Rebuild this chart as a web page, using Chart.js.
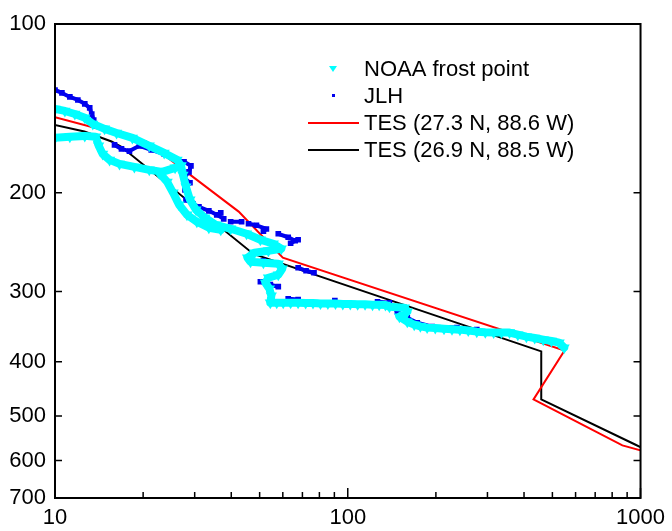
<!DOCTYPE html>
<html>
<head>
<meta charset="utf-8">
<script src="https://cdn.jsdelivr.net/npm/chart.js@4.4.0/dist/chart.umd.min.js"></script>
<style>
  body { margin: 0; background: #fff; }
  canvas { display: block; }
</style>
</head>
<body>
<canvas id="profileChart" width="672" height="531"></canvas>
<script>
// water vapour (ppmv) vs pressure (hPa); a null starts a new strand
const noaaPpmv = [
    10, 10.81, 11.69, 12.64, 13.46, 14.77, 16.23, 18.38, 20.99, 23.60, 26.12, 26.95,
    null,
    10, 11.24, 12.64, 13.77, 14.10, 14.55, 15.36, 16.61, 18.67, 20.99, 23.23, 25.72, 26.95,
    27.37, 28.02, 28.91, 30.30, 32.50, 35.42, 39.81, 45.11, 50.30, 55.69, 59.27, 53.56,
    48.01, 45.46, 46.54, 51.51, 57.90, 59.74, 57.90, 53.56, 52.31, 53.97, 54.82, 54.39,
    57.2, 60.20, 63.8, 67.68, 71.8, 76.08, 80.7, 85.53, 90.8, 96.18, 102, 108.1, 114.6,
    121.5, 128, 134.5, 138.8, 156.1, 159.7, 150.1, 159.7, 168.7, 177, 186.7, 199, 213.2,
    227, 241.6, 258, 275.9, 295, 315.0, 335, 356.9, 381, 407.6, 435, 465.4, 496, 527.2, 548.3,
    null,
    22.70, 24.16, 25.32, 26.53, 28.23, 30.52, 33.54, 36.83
];
const noaaHpa = [
    141.7, 142.9, 144.7, 147.0, 150.7, 153.8, 156.4, 159.6, 164.9, 169.8, 174.7, 179.0,
    null,
    159.6, 158.9, 158.3, 158.9, 164.9, 170.5, 174.7, 177.6, 179.8, 182.0, 183.5, 180.5, 179.0,
    185.8, 195.1, 205.8, 214.4, 221.5, 228.0, 231.8, 236.6, 242.5, 246.5, 251.6, 253.6,
    255.7, 261.1, 265.4, 266.5, 267.6, 273.1, 279.9, 283.4, 289.3, 296.5, 305.1, 314.0,
    314.0, 314.0, 314.0, 314.0, 314.5, 314.5, 315.0, 315.0, 315.0, 315.5, 315.5, 316.0, 316.0,
    316.5, 316.5, 317.0, 319.2, 320.5, 325.8, 332.5, 339.5, 343.6, 346.0, 347.8, 348.5, 349.3,
    350.0, 350.7, 352.0, 353.6, 354.5, 355.0, 355.0, 355.0, 358.0, 360.9, 363.0, 365.4, 367.5, 369.9, 377.6,
    null,
    184.3, 191.2, 200.0, 210.1, 218.9, 225.2, 230.8, 232.7
];

const jlhPpmv = [
    10, 10.56, 11.24, 11.97, 12.64, 13.14, 13.35, 13.56, 13.77,
    null,
    15.97, 16.87, 17.96, 19.42, 21.32, 23.60, 26.12, 27.59, 29.13, 28.69, 27.59, 28.91,
    27.80, 28.69, 28.02, 29.60, 31.02, 33.54, 35.69, 37.70,
    null, 39.81, 43.39,
    null, 45.82, 48.76, 52.73, 51.51,
    null, 57.90, 62.60, 66.12, 63.80,
    null, 67.68, 72.03, 76.68,
    null, 50.30, 54.39, 57.90,
    null, 62.60, 67.68,
    null, 126.4, 138.8, 147.7, 159.7, 172.7, 194.2, 236.0, 275.9,
    null, 51.51, null, 36.83, null, 90.35, null, 67.68
];
const jlhHpa = [
    131.1, 132.7, 134.9, 136.6, 138.8, 141.1, 144.7, 148.3, 151.9,
    null,
    164.3, 167.0, 168.5, 164.9, 167.7, 170.5, 174.7, 176.1, 179.0, 183.5, 188.0, 191.9,
    197.6, 202.5, 205.8, 209.3, 211.8, 215.3, 218.9, 222.5,
    null, 225.2, 225.2,
    null, 227.1, 228.5, 232.0, 234.0,
    null, 236.6, 240.0, 243.5, 246.0,
    null, 272.0, 275.4, 277.6,
    null, 288.1, 291.6, 294.0,
    null, 308.9, 310.0,
    null, 312.7, 314.0, 325.8, 333.9, 340.9, 346.4, 347.8, 350.7,
    null, 264.3, null, 217.1, null, 311.3, null, 242.5
];

const tesRedPpmv = [10, 20.5, 42.4, 60, 550, 431, 867, 1650];
const tesRedHpa = [146.6, 162, 216, 261, 382, 467, 564, 619];
const tesBlackPpmv = [7.7, 12.6, 15.6, 16.8, 47.6, 458, 458, 958, 1400];
const tesBlackHpa = [146.8, 155.5, 162, 165.4, 257, 383.4, 467, 562, 619];

const xLabels = [10, 100, 1000];
const yLabels = [100, 200, 300, 400, 500, 600, 700];

function toPoints(xs, ys) {
    return xs.map((v, i) => (v === null ? { x: null, y: null } : { x: v, y: ys[i] }));
}

const fontFamily = '"Liberation Sans", Arial, sans-serif';

// black box with inward ticks on left, right and bottom
const frameTicks = {
    id: 'frameTicks',
    afterDatasetsDraw(chart) {
        const { ctx, chartArea: a, scales: { x, y } } = chart;
        ctx.save();
        ctx.strokeStyle = '#000';
        ctx.lineWidth = 2;
        ctx.strokeRect(a.left, a.top, a.right - a.left, a.bottom - a.top);
        ctx.lineWidth = 1.5;
        ctx.beginPath();
        x.ticks.forEach(t => {
            const m = t.value / Math.pow(10, Math.floor(Math.log10(t.value) + 1e-9));
            if (Math.abs(m - Math.round(m)) > 1e-6) return;
            const px = x.getPixelForValue(t.value);
            const len = xLabels.includes(t.value) ? 10 : 6;
            ctx.moveTo(px, a.bottom);
            ctx.lineTo(px, a.bottom - len);
        });
        yLabels.forEach(v => {
            const py = y.getPixelForValue(v);
            ctx.moveTo(a.left, py);
            ctx.lineTo(a.left + 7, py);
            ctx.moveTo(a.right, py);
            ctx.lineTo(a.right - 7, py);
        });
        ctx.stroke();
        ctx.restore();
    }
};

// legend drawn inside the plot, upper right
const insideLegend = {
    id: 'insideLegend',
    afterDraw(chart) {
        const ctx = chart.ctx;
        const sets = chart.data.datasets;
        ctx.save();
        ctx.font = '22px ' + fontFamily;
        ctx.textBaseline = 'middle';
        sets.forEach((ds, i) => {
            const rowY = 69 + i * 27;
            ctx.fillStyle = '#000';
            ctx.fillText(ds.label, 364, rowY + 1);
            if (i === 0) {
                ctx.fillStyle = ds.pointBackgroundColor;
                ctx.beginPath();
                ctx.moveTo(329, rowY - 3);
                ctx.lineTo(337, rowY - 3);
                ctx.lineTo(333, rowY + 3);
                ctx.closePath();
                ctx.fill();
            } else if (i === 1) {
                ctx.fillStyle = ds.pointBackgroundColor;
                ctx.fillRect(332, rowY - 2, 3, 3);
            } else {
                ctx.strokeStyle = ds.borderColor;
                ctx.lineWidth = 2;
                ctx.beginPath();
                ctx.moveTo(308, rowY);
                ctx.lineTo(359, rowY);
                ctx.stroke();
            }
        });
        ctx.restore();
    }
};

new Chart(document.getElementById('profileChart'), {
    type: 'scatter',
    data: {
        datasets: [
            {
                label: 'NOAA frost point',
                data: toPoints(noaaPpmv, noaaHpa),
                showLine: true,
                borderColor: '#00ffff',
                borderWidth: 8,
                borderJoinStyle: 'round',
                borderCapStyle: 'round',
                pointStyle: 'triangle',
                rotation: 180,
                pointRadius: 6.5,
                pointBackgroundColor: '#00ffff',
                pointBorderWidth: 0
            },
            {
                label: 'JLH',
                data: toPoints(jlhPpmv, jlhHpa),
                showLine: true,
                borderColor: '#0000ee',
                borderWidth: 4,
                borderJoinStyle: 'round',
                borderCapStyle: 'round',
                pointStyle: 'rect',
                pointRadius: 4,
                pointBackgroundColor: '#0000ee',
                pointBorderWidth: 0
            },
            {
                label: 'TES (27.3 N, 88.6 W)',
                data: toPoints(tesRedPpmv, tesRedHpa),
                showLine: true,
                borderColor: '#ff0000',
                borderWidth: 2,
                pointRadius: 0
            },
            {
                label: 'TES (26.9 N, 88.5 W)',
                data: toPoints(tesBlackPpmv, tesBlackHpa),
                showLine: true,
                borderColor: '#000000',
                borderWidth: 2,
                pointRadius: 0
            }
        ]
    },
    options: {
        responsive: false,
        animation: false,
        devicePixelRatio: 1,
        layout: { padding: { top: 24, right: 27, left: 0, bottom: 0 } },
        plugins: {
            legend: { display: false },
            tooltip: { enabled: false }
        },
        scales: {
            x: {
                type: 'logarithmic',
                min: 10,
                max: 1000,
                grid: { display: false, drawTicks: false },
                border: { display: false },
                ticks: {
                    autoSkip: false,
                    maxRotation: 0,
                    padding: 7,
                    color: '#000',
                    font: { family: fontFamily, size: 22 },
                    callback: v => (xLabels.includes(v) ? String(v) : '')
                },
                afterFit: s => { s.height = 33; }
            },
            y: {
                type: 'logarithmic',
                reverse: true,
                min: 100,
                max: 700,
                grid: { display: false, drawTicks: false },
                border: { display: false },
                ticks: {
                    autoSkip: false,
                    padding: 9,
                    color: '#000',
                    font: { family: fontFamily, size: 22 },
                    callback: v => (yLabels.includes(v) ? String(v) : '')
                },
                afterFit: s => { s.width = 55; }
            }
        }
    },
    plugins: [frameTicks, insideLegend]
});
</script>
</body>
</html>
